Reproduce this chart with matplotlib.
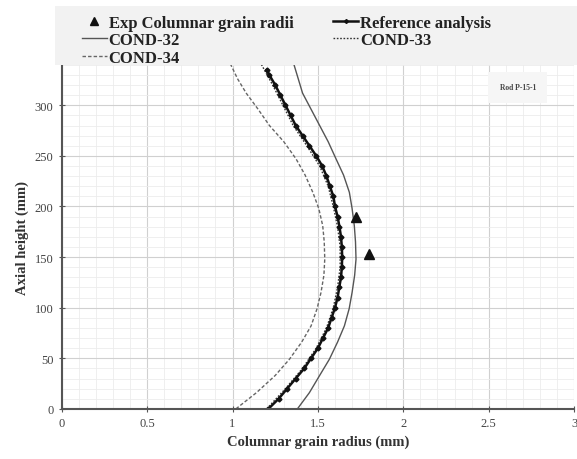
import matplotlib
matplotlib.use('Agg')
import matplotlib.pyplot as plt
from matplotlib.ticker import MultipleLocator
from matplotlib.patches import Rectangle

plt.rcParams['font.family'] = ['Liberation Serif', 'DejaVu Serif']

# experimental grain radii
exp_r = [1.725, 1.80]
exp_h = [190, 153]

# reference analysis
ref_h = [0, 10, 20, 30, 40, 50, 60, 70, 80, 90, 100, 110, 120, 130, 140, 150, 160, 170,
         180, 190, 200, 210, 220, 230, 240, 250, 260, 270, 280, 290, 300, 310, 320, 330, 335]
ref_r = [1.21, 1.27, 1.32, 1.37, 1.42, 1.46, 1.50, 1.53, 1.56, 1.58, 1.60, 1.615, 1.625, 1.635,
         1.64, 1.642, 1.64, 1.635, 1.626, 1.615, 1.60, 1.59, 1.57, 1.55, 1.525, 1.49, 1.45,
         1.41, 1.37, 1.34, 1.31, 1.28, 1.25, 1.215, 1.20]

# COND-32 (outer)
c32_h = [0, 16, 33, 49, 66, 82, 99, 115, 132, 148, 165, 181, 198, 214, 231, 247, 264, 280, 296, 312, 326, 340]
c32_r = [1.38, 1.45, 1.51, 1.567, 1.615, 1.655, 1.683, 1.70, 1.715, 1.723, 1.72, 1.713, 1.70, 1.684,
         1.65, 1.606, 1.56, 1.51, 1.46, 1.41, 1.385, 1.36]

# COND-33 (close to reference)
c33_h = [0, 20, 40, 60, 80, 100, 120, 140, 160, 180, 200, 220, 240, 260, 280, 300, 320, 340]
c33_r = [1.20, 1.31, 1.41, 1.49, 1.55, 1.59, 1.615, 1.63, 1.63, 1.615, 1.59, 1.56, 1.51, 1.435,
         1.355, 1.295, 1.235, 1.17]

# COND-34 (inner)
c34_h = [0, 16, 33, 49, 66, 82, 99, 115, 132, 148, 165, 181, 198, 214, 231, 247, 264, 280, 296, 312, 326, 340]
c34_r = [1.02, 1.14, 1.25, 1.333, 1.405, 1.46, 1.495, 1.518, 1.535, 1.54, 1.537, 1.528, 1.505, 1.47,
         1.425, 1.372, 1.30, 1.216, 1.15, 1.08, 1.03, 0.99]

fig = plt.figure(figsize=(5.77, 4.60), dpi=100)
ax = fig.add_axes([0.107, 0.109, 0.888, 0.748])

ax.plot(c32_r, c32_h, color='#555555', lw=1.0, ls='-', label='COND-32')
ax.plot(c33_r, c33_h, color='#333333', lw=1.0, ls=(0, (1.2, 1.2)), label='COND-33')
ax.plot(c34_r, c34_h, color='#666666', lw=1.0, ls=(0, (2.5, 1.5)), label='COND-34')
ax.plot(ref_r, ref_h, color='#111111', lw=1.8, marker='D', ms=2.5, label='Reference analysis')
ax.plot(exp_r, exp_h, ls='none', marker='^', color='#111111', ms=7, label='Exp Columnar grain radii')

ax.set_xlim(0, 3)
ax.set_ylim(0, 340)
ax.xaxis.set_major_locator(MultipleLocator(0.5))
ax.xaxis.set_minor_locator(MultipleLocator(0.1))
ax.yaxis.set_major_locator(MultipleLocator(50))
ax.yaxis.set_minor_locator(MultipleLocator(10))
ax.grid(which='major', color='#d0d0d0', lw=0.8)
ax.grid(which='minor', color='#ececec', lw=0.6)
ax.set_xticks([0, 0.5, 1, 1.5, 2, 2.5, 3])
ax.set_xticklabels(['0', '0.5', '1', '1.5', '2', '2.5', '3'])
ax.tick_params(which='minor', length=0)
ax.tick_params(which='major', direction='inout', length=5, labelsize=9, labelcolor='#444444', color='#555555')
for s in ['top', 'right']:
    ax.spines[s].set_visible(False)
for s in ['left', 'bottom']:
    ax.spines[s].set_color('#555555')
    ax.spines[s].set_linewidth(1.5)

ax.set_xlabel('Columnar grain radius (mm)', fontsize=10.5, fontweight='bold', color='#333333', labelpad=4)
ax.set_ylabel('Axial height (mm)', fontsize=10.5, fontweight='bold', color='#333333', labelpad=4)

ax.text(0.89, 0.935, 'Rod P-15-1', transform=ax.transAxes, fontsize=5.5, fontweight='bold',
        ha='center', va='center', color='#444444',
        bbox=dict(boxstyle='square,pad=1.5', fc='#f6f6f6', ec='none'))

# gray band behind the legend
fig.patches.append(Rectangle((0.095, 0.857), 0.905, 0.128, transform=fig.transFigure,
                             fc='#f2f2f2', ec='none', zorder=0))

handles, labels = ax.get_legend_handles_labels()
order = [4, 0, 2, 3, 1]
leg = fig.legend([handles[i] for i in order], [labels[i] for i in order], ncol=2,
                 loc='upper left', bbox_to_anchor=(0.142, 0.966), frameon=False,
                 prop={'weight': 'bold', 'size': 12}, handlelength=1.5, handletextpad=0.1,
                 labelspacing=0.1, borderpad=0.0, borderaxespad=0.0, columnspacing=2.4,
                 markerscale=0.8)
for t in leg.get_texts():
    t.set_color('#222222')

fig.savefig('out.png', dpi=100)
